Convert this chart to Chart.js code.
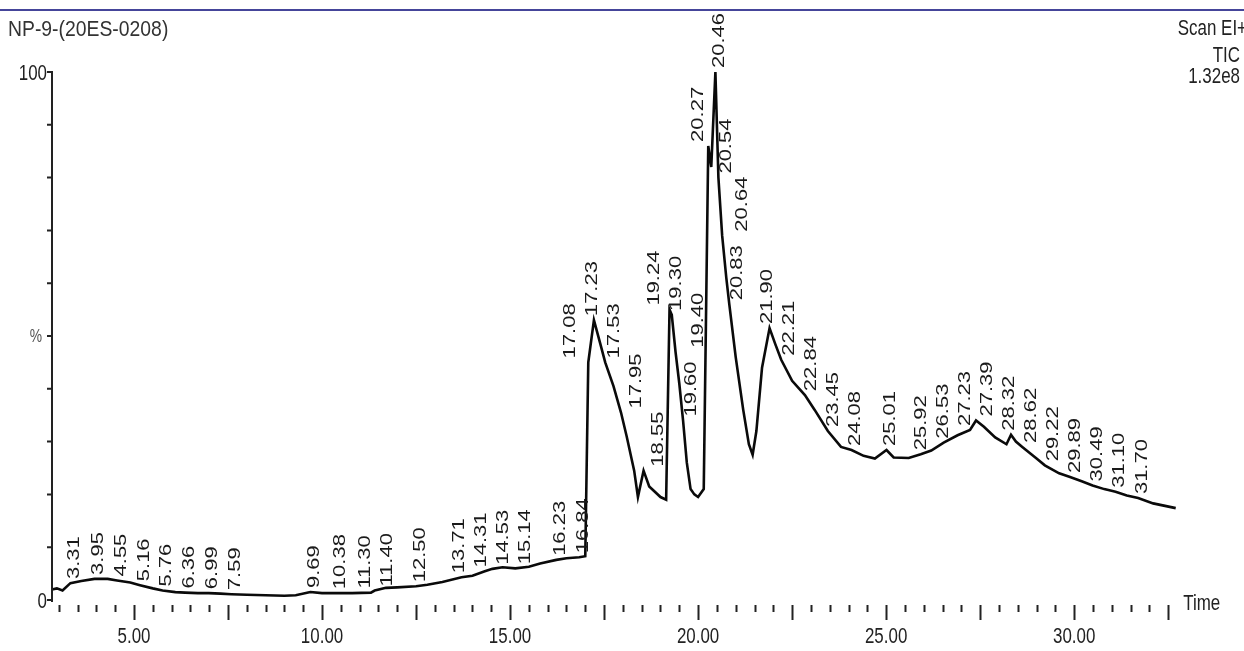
<!DOCTYPE html>
<html>
<head>
<meta charset="utf-8">
<script src="https://cdn.jsdelivr.net/npm/chart.js@4.4.1/dist/chart.umd.min.js"></script>
<style>
  html, body { margin: 0; padding: 0; background: #fff; }
  #wrap { width: 1244px; height: 651px; position: relative; }
</style>
</head>
<body>
<div id="wrap"><canvas id="tic" width="1244" height="651"></canvas></div>
<script>
// retention time (min) and relative intensity (%)
const times = [
  2.82, 2.95, 3.10, 3.31, 3.60, 3.95, 4.30, 4.55, 4.90, 5.16,
  5.50, 5.76, 6.10, 6.36, 6.70, 6.99, 7.30, 7.59, 8.00, 8.50,
  9.00, 9.30, 9.69, 10.00, 10.38, 10.80, 11.30, 11.40, 11.70, 12.00,
  12.50, 12.80, 13.20, 13.71, 14.00, 14.31, 14.53, 14.80, 15.14, 15.50,
  15.80, 16.23, 16.50, 16.84, 17.00, 17.08, 17.23, 17.40, 17.53, 17.75,
  17.95, 18.10, 18.30, 18.40, 18.55, 18.70, 18.85, 19.00, 19.15, 19.24,
  19.30, 19.40, 19.50, 19.60, 19.70, 19.80, 19.90, 20.00, 20.15, 20.27,
  20.35, 20.46, 20.54, 20.64, 20.75, 20.83, 21.00, 21.20, 21.35, 21.45,
  21.55, 21.70, 21.90, 22.05, 22.21, 22.50, 22.84, 23.10, 23.45, 23.80,
  24.08, 24.40, 24.70, 25.01, 25.20, 25.60, 25.92, 26.20, 26.53, 26.90,
  27.23, 27.39, 27.60, 27.90, 28.20, 28.32, 28.45, 28.62, 29.00, 29.22,
  29.60, 29.89, 30.20, 30.49, 30.80, 31.10, 31.40, 31.70, 32.10, 32.70
];
const intensity = [
  2.0, 2.2, 1.8, 3.2, 3.6, 4.0, 4.0, 3.7, 3.3, 2.8,
  2.2, 1.8, 1.5, 1.4, 1.3, 1.3, 1.2, 1.1, 1.0, 0.9,
  0.8, 0.9, 1.5, 1.3, 1.3, 1.3, 1.4, 1.8, 2.3, 2.4,
  2.6, 2.9, 3.4, 4.3, 4.6, 5.4, 5.9, 6.2, 6.0, 6.3,
  6.9, 7.6, 7.9, 8.1, 8.3, 45, 53, 48.5, 45, 40.5,
  35.5, 31, 24.5, 19.5, 24.5, 21.5, 20.5, 19.5, 19, 55,
  54, 47, 41, 34, 26, 21, 20, 19.5, 21, 86,
  82, 100, 80, 69, 61, 56, 46, 36, 29.5, 27.5,
  32, 44, 51.5, 48.5, 45.5, 41.5, 38.8, 36, 32, 29,
  28.4, 27.3, 26.8, 28.4, 27, 26.9, 27.6, 28.3, 29.8, 31.2,
  32.2, 34, 32.8, 30.8, 29.5, 31.3, 30, 29, 26.8, 25.5,
  24, 23.3, 22.5, 21.7, 21, 20.5, 19.8, 19.3, 18.3, 17.4
];
// labelled peaks
const peakLabels = [
  "3.31", "3.95", "4.55", "5.16", "5.76", "6.36", "6.99", "7.59", "9.69", "10.38",
  "11.30", "11.40", "12.50", "13.71", "14.31", "14.53", "15.14", "16.23", "16.84", "17.08",
  "17.23", "17.53", "17.95", "18.55", "19.24", "19.30", "19.40", "19.60", "20.27", "20.46",
  "20.54", "20.64", "20.83", "21.90", "22.21", "22.84", "23.45", "24.08", "25.01", "25.92",
  "26.53", "27.23", "27.39", "28.32", "28.62", "29.22", "29.89", "30.49", "31.10", "31.70"
];
const xTickLabels = [5, 10, 15, 20, 25, 30];
const yTickLabels = [0, 100];

const FONT = '"Liberation Sans", Arial, sans-serif';
const SQ = 0.77;   // glyphs in the scan are narrow

function txt(ctx, s, x, y, align, size, color, sq) {
  ctx.save();
  ctx.translate(x, y);
  ctx.scale(sq || SQ, 1);
  ctx.font = size + 'px ' + FONT;
  ctx.textAlign = align;
  ctx.textBaseline = 'alphabetic';
  ctx.fillStyle = color || '#222';
  ctx.fillText(s, 0, 0);
  ctx.restore();
}

// highest point (smallest pixel y) of the drawn trace between x1 and x2
function traceTop(pts, x1, x2) {
  let top = Infinity;
  for (let i = 0; i < pts.length - 1; i++) {
    const a = pts[i], b = pts[i + 1];
    if (b.x < x1 || a.x > x2) continue;
    const lo = Math.max(a.x, x1), hi = Math.min(b.x, x2);
    [lo, hi].forEach(x => {
      const f = b.x === a.x ? 0 : (x - a.x) / (b.x - a.x);
      top = Math.min(top, a.y + f * (b.y - a.y));
    });
  }
  return top;
}

const decor = {
  id: 'decor',
  beforeDraw(chart) {
    const ctx = chart.ctx;
    ctx.save();
    ctx.fillStyle = '#fff';
    ctx.fillRect(0, 0, chart.width, chart.height);
    ctx.fillStyle = '#45459a';
    ctx.fillRect(0, 9, chart.width, 2);
    ctx.restore();
  },
  afterDraw(chart) {
    const ctx = chart.ctx;
    const xs = chart.scales.x, ys = chart.scales.y;
    const y0 = ys.getPixelForValue(0), y100 = ys.getPixelForValue(100);
    const left = chart.chartArea.left;

    // header texts
    txt(ctx, 'NP-9-(20ES-0208)', 8, 36, 'left', 22, '#333', 0.88);
    txt(ctx, 'Scan EI+', 1247, 35, 'right', 22);
    txt(ctx, 'TIC', 1240, 62, 'right', 22);
    txt(ctx, '1.32e8', 1240, 83, 'right', 22);

    // y axis
    ctx.save();
    ctx.strokeStyle = '#222';
    ctx.lineWidth = 2;
    ctx.beginPath();
    ctx.moveTo(left, y100 - 1);
    ctx.lineTo(left, y0 + 2);
    for (let v = 0; v <= 100; v += 10) {
      const py = ys.getPixelForValue(v);
      ctx.moveTo(left - 5, py);
      ctx.lineTo(left, py);
    }
    ctx.stroke();
    ctx.restore();
    yTickLabels.forEach(v => {
      txt(ctx, String(v), left - 5, ys.getPixelForValue(v) + 8, 'right', 22);
    });
    txt(ctx, '%', left - 10, ys.getPixelForValue(50) + 6, 'right', 18, '#555');

    // x axis ticks (no axis line in the original)
    ctx.save();
    ctx.strokeStyle = '#222';
    ctx.lineWidth = 2;
    ctx.beginPath();
    for (let t = 3; t <= 32.5 + 1e-6; t += 0.5) {
      const px = Math.round(xs.getPixelForValue(t)) + 0.5;
      const major = Math.abs(t / 2.5 - Math.round(t / 2.5)) < 1e-6;
      ctx.moveTo(px, y0 + 5);
      ctx.lineTo(px, y0 + (major ? 20 : 12));
    }
    ctx.stroke();
    ctx.restore();
    xTickLabels.forEach(t => {
      txt(ctx, t.toFixed(2), xs.getPixelForValue(t), y0 + 43, 'center', 22);
    });
    txt(ctx, 'Time', xs.getPixelForValue(32.5) + 15, y0 + 10, 'left', 22);

    // peak labels, rotated, pushed apart where they collide
    ctx.save();
    ctx.font = '22px ' + FONT;
    const boxes = peakLabels.map(s => {
      const t = parseFloat(s);
      const v = intensity[times.indexOf(t)];
      const len = ctx.measureText(s).width;
      const bottom = ys.getPixelForValue(v) - 4;
      return { s, x: xs.getPixelForValue(t) + 4, bottom, top: bottom - len };
    });
    const GAP = 22, VM = 12;
    for (let it = 0; it < 400; it++) {
      for (let i = 0; i < boxes.length; i++) {
        for (let j = i + 1; j < boxes.length; j++) {
          const a = boxes[i], b = boxes[j];
          const dx = b.x - a.x;
          if (dx >= GAP) continue;
          if (a.bottom + VM < b.top || b.bottom + VM < a.top) continue;
          const d = (GAP - dx) / 4;
          a.x -= d; b.x += d;
        }
      }
    }
    // step labels sideways off a narrow spike of the trace, if a short shift does it
    const pts = chart.getDatasetMeta(0).data.map(p => ({ x: p.x, y: p.y }));
    boxes.forEach(b => {
      for (let n = 0; n <= 14; n++) {
        if (traceTop(pts, b.x + n - 8, b.x + n + 8) >= b.bottom - 2) { b.x += n; break; }
      }
    });
    ctx.fillStyle = '#1a1a1a';
    ctx.textAlign = 'left';
    ctx.textBaseline = 'middle';
    boxes.forEach(b => {
      ctx.save();
      ctx.translate(b.x, b.bottom);
      ctx.scale(SQ, 1);
      ctx.rotate(-Math.PI / 2);
      ctx.fillText(b.s, 0, 0);
      ctx.restore();
    });
    ctx.restore();
  }
};

new Chart(document.getElementById('tic'), {
  type: 'line',
  data: {
    datasets: [{
      data: times.map((t, i) => ({ x: t, y: intensity[i] })),
      borderColor: '#0a0a0a',
      borderWidth: 2.6,
      pointRadius: 0,
      tension: 0,
      clip: false
    }]
  },
  options: {
    responsive: false,
    animation: false,
    layout: { padding: { left: 52, right: 57, top: 72, bottom: 51 } },
    plugins: { legend: { display: false }, tooltip: { enabled: false } },
    scales: {
      x: { type: 'linear', min: 2.82, max: 33.0, display: false },
      y: { min: 0, max: 100, display: false }
    }
  },
  plugins: [decor]
});
</script>
</body>
</html>
